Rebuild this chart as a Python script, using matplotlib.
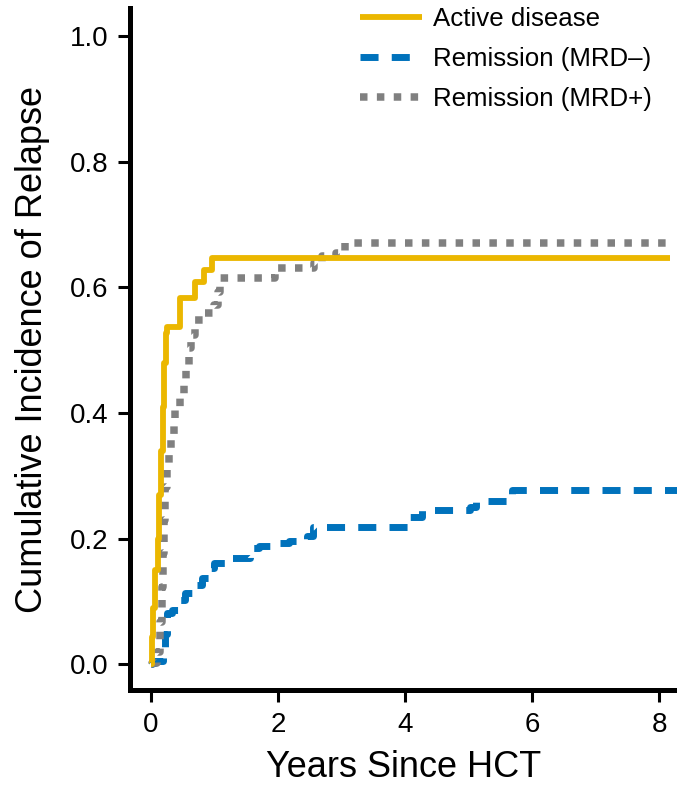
import matplotlib
matplotlib.use("Agg")
import matplotlib.pyplot as plt

# 累積再発率（読み取り値）
active_t = [0, 0.01, 0.04, 0.07, 0.11, 0.13, 0.16, 0.19, 0.21, 0.23, 0.26, 0.46, 0.70, 0.84, 0.96, 8.17]
active_ci = [0, 0.043, 0.09, 0.15, 0.20, 0.27, 0.34, 0.41, 0.48, 0.527, 0.537, 0.583, 0.608, 0.627, 0.647, 0.647]

mrdn_t = [0, 0.02, 0.06, 0.19, 0.22, 0.25, 0.33, 0.46, 0.53, 0.68, 0.80, 0.91, 1.00, 1.19, 1.56, 1.70,
          1.93, 2.17, 2.45, 2.55, 4.07, 4.26, 5.02, 5.12, 5.68, 8.4]
mrdn_ci = [0, 0.002, 0.006, 0.027, 0.049, 0.081, 0.086, 0.102, 0.113, 0.126, 0.137, 0.154, 0.161, 0.170,
           0.185, 0.189, 0.193, 0.197, 0.205, 0.218, 0.234, 0.245, 0.250, 0.260, 0.277, 0.277]

mrdp_t = [0, 0.02, 0.09, 0.14, 0.17, 0.19, 0.20, 0.22, 0.25, 0.28, 0.31, 0.36, 0.38, 0.46, 0.52, 0.55,
          0.60, 0.63, 0.69, 0.83, 0.99, 1.05, 1.08, 1.95, 2.56, 2.69, 2.92, 3.05, 8.14]
mrdp_ci = [0, 0.002, 0.019, 0.067, 0.123, 0.177, 0.229, 0.282, 0.312, 0.336, 0.360, 0.384, 0.409, 0.428,
           0.452, 0.476, 0.503, 0.524, 0.548, 0.559, 0.572, 0.592, 0.615, 0.631, 0.639, 0.650, 0.655, 0.670, 0.670]

labels = ["Active disease", "Remission (MRD\u2013)", "Remission (MRD+)"]
x_ticks = [0, 2, 4, 6, 8]
y_ticks = [0.0, 0.2, 0.4, 0.6, 0.8, 1.0]

cond = ["Liberation Sans Narrow", "Liberation Sans", "DejaVu Sans"]
plain = ["Liberation Sans", "DejaVu Sans"]

fig = plt.figure(figsize=(6.77, 7.95), dpi=100)
ax = fig.add_axes([0.192, 0.132, 0.808, 0.858])

ax.plot(active_t, active_ci, drawstyle="steps-post", color="#EBB700", lw=4.2,
        solid_capstyle="butt", label=labels[0], zorder=3)
l2, = ax.plot(mrdn_t, mrdn_ci, drawstyle="steps-post", color="#0072BC", lw=5.0,
              label=labels[1], zorder=2)
l2.set_dashes((2.6, 1.9))
l3, = ax.plot(mrdp_t, mrdp_ci, drawstyle="steps-post", color="#808080", lw=5.4,
              label=labels[2], zorder=2)
l3.set_dashes((1.0, 1.25))

ax.set_xlim(-0.33, 8.28)
ax.set_ylim(-0.041, 1.045)
ax.set_xticks(x_ticks)
ax.set_yticks(y_ticks)
ax.set_xticklabels([str(v) for v in x_ticks], family=plain, fontsize=20)
ax.set_yticklabels(["%.1f" % v for v in y_ticks], family=plain, fontsize=20)
ax.tick_params(direction="out", length=8.5, width=2.2, pad=7)

for s in ["top", "right"]:
    ax.spines[s].set_visible(False)
for s in ["left", "bottom"]:
    ax.spines[s].set_linewidth(3.6)

ax.set_xlabel("Years Since HCT", family=cond, fontsize=26, labelpad=9)
ax.set_ylabel("Cumulative Incidence of Relapse", family=cond, fontsize=26, labelpad=14)

leg = fig.legend(loc="upper left", bbox_to_anchor=(360 / 677, 1 - 7 / 795), frameon=False,
                 prop={"family": plain, "size": 18.6}, handlelength=2.4, handletextpad=0.43,
                 labelspacing=0.62, borderpad=0, borderaxespad=0)

fig.savefig("out.png", dpi=100)
